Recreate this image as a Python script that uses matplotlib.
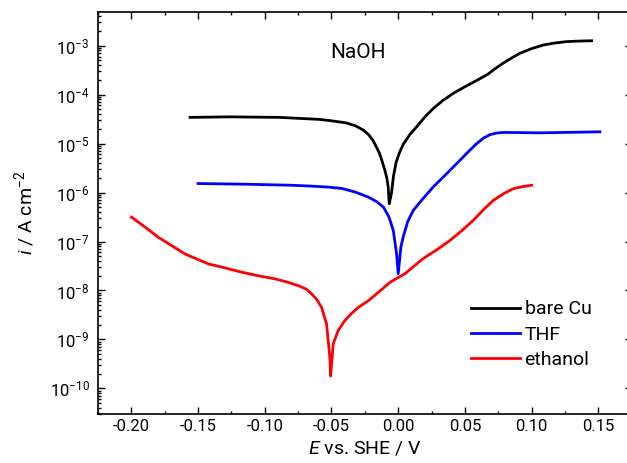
import matplotlib
matplotlib.use("Agg")
import matplotlib.pyplot as plt
import numpy as np
from matplotlib.ticker import NullFormatter, FixedLocator

plt.rcParams["font.family"] = ["Roboto", "DejaVu Sans"]
plt.rcParams["mathtext.fontset"] = "custom"
plt.rcParams["mathtext.rm"] = "Roboto"
plt.rcParams["mathtext.it"] = "Roboto:italic"
plt.rcParams["mathtext.bf"] = "Roboto:bold"
plt.rcParams["axes.unicode_minus"] = False

# ---------- data ----------

# bare Cu
cu_E = [-0.156, -0.126, -0.089, -0.059, -0.050, -0.039, -0.032, -0.026, -0.022,
        -0.019, -0.0165, -0.014, -0.012, -0.010, -0.0085, -0.0075, -0.0067,
        -0.005, -0.0035, -0.0015, 0.001, 0.0037, 0.0085, 0.0138, 0.020, 0.0262,
        0.0335, 0.0412, 0.050, 0.0588, 0.063, 0.0675, 0.072, 0.0787, 0.085,
        0.0912, 0.100, 0.1087, 0.117, 0.1262, 0.135, 0.145]
cu_i = [3.43e-5, 3.52e-5, 3.43e-5, 3.12e-5, 2.92e-5, 2.65e-5, 2.3e-5, 1.88e-5, 1.5e-5,
        1.17e-5, 8.7e-6, 6.3e-6, 4.3e-6, 2.86e-6, 1.95e-6, 1.3e-6, 5.9e-7,
        1.0e-6, 2.2e-6, 4.2e-6, 6.6e-6, 9.6e-6, 1.5e-5, 2.2e-5, 3.5e-5, 5.2e-5,
        7.6e-5, 1.06e-4, 1.45e-4, 1.95e-4, 2.25e-4, 2.65e-4, 3.3e-4, 4.4e-4, 5.6e-4,
        7.0e-4, 8.7e-4, 1.03e-3, 1.13e-3, 1.21e-3, 1.24e-3, 1.26e-3]

# THF
thf_E = [-0.150, -0.114, -0.080, -0.064, -0.052, -0.042, -0.032, -0.0225, -0.016,
         -0.011, -0.007, -0.0037, -0.0012, 0.0, 0.002, 0.0037, 0.007, 0.0112,
         0.018, 0.0262, 0.035, 0.0438, 0.052, 0.0588, 0.064, 0.0687, 0.0737,
         0.0787, 0.090, 0.1062, 0.130, 0.1512]
thf_i = [1.53e-6, 1.48e-6, 1.41e-6, 1.35e-6, 1.29e-6, 1.21e-6, 1.02e-6, 8.1e-7, 6.5e-7,
         5.0e-7, 3.2e-7, 1.69e-7, 5.6e-8, 2.2e-8, 7.7e-8, 1.23e-7, 2.5e-7, 4.3e-7,
         7.2e-7, 1.3e-6, 2.24e-6, 3.9e-6, 6.6e-6, 1.0e-5, 1.3e-5, 1.52e-5, 1.64e-5,
         1.69e-5, 1.68e-5, 1.66e-5, 1.70e-5, 1.74e-5]

# ethanol
eth_E = [-0.200, -0.190, -0.180, -0.170, -0.160, -0.151, -0.1424, -0.130, -0.1174,
         -0.105, -0.0924, -0.083, -0.075, -0.069, -0.065, -0.061, -0.0574, -0.0537,
         -0.0512, -0.0507, -0.0487, -0.045, -0.040, -0.035, -0.030, -0.022, -0.015,
         -0.006, 0.005, 0.0187, 0.029, 0.0388, 0.048, 0.0562, 0.064, 0.0712, 0.079,
         0.0862, 0.093, 0.100]
eth_i = [3.16e-7, 2.0e-7, 1.23e-7, 8.3e-8, 5.6e-8, 4.4e-8, 3.5e-8, 2.9e-8, 2.37e-8,
         2.0e-8, 1.73e-8, 1.48e-8, 1.26e-8, 1.07e-8, 8.6e-9, 6.5e-9, 4.5e-9, 2.08e-9,
         4.3e-10, 1.8e-10, 8.1e-10, 1.52e-9, 2.43e-9, 3.4e-9, 4.5e-9, 6.3e-9, 9.1e-9,
         1.48e-8, 2.2e-8, 4.5e-8, 6.8e-8, 1.05e-7, 1.7e-7, 2.7e-7, 4.5e-7, 6.9e-7, 9.5e-7,
         1.2e-6, 1.32e-6, 1.41e-6]

labels = ["bare Cu", "THF", "ethanol"]
colors = ["black", "#0000ff", "#ff0000"]
x_ticks = [-0.20, -0.15, -0.10, -0.05, 0.00, 0.05, 0.10, 0.15]
x_minor = [-0.225, -0.175, -0.125, -0.075, -0.025, 0.025, 0.075, 0.125, 0.175]
y_decades = [-10, -9, -8, -7, -6, -5, -4, -3]

# ---------- plot ----------

fig = plt.figure(figsize=(6.27, 4.63), dpi=100)
ax = fig.add_axes([0.1563, 0.1058, 0.8512, 0.8676])

for E, i, lab, c in zip([cu_E, thf_E, eth_E], [cu_i, thf_i, eth_i], labels, colors):
    ax.plot(E, i, color=c, lw=2.0, label=lab, solid_joinstyle="round")

ax.set_yscale("log")
ax.set_xlim(-0.225, 0.175)
ax.set_ylim(3e-11, 4.8e-3)

ax.xaxis.set_major_locator(FixedLocator(x_ticks))
ax.xaxis.set_minor_locator(FixedLocator(x_minor))
ax.xaxis.set_major_formatter(plt.FuncFormatter(lambda v, p: f"{v:.2f}"))

y_major = [10.0 ** d for d in y_decades]
y_minor = [m * 10.0 ** d for d in [-11] + y_decades for m in range(2, 10)]
y_minor = [v for v in y_minor if 3e-11 <= v <= 4.8e-3]
ax.yaxis.set_major_locator(FixedLocator(y_major))
ax.yaxis.set_minor_locator(FixedLocator(y_minor))
ax.yaxis.set_major_formatter(plt.FuncFormatter(
    lambda v, p: f"$10^{{{int(round(np.log10(v)))}}}$"))
ax.yaxis.set_minor_formatter(NullFormatter())

ax.tick_params(which="both", direction="in", top=True, right=True, width=1.0)
ax.tick_params(which="major", length=5, labelsize=12)
ax.tick_params(axis="y", which="major", pad=6)
ax.tick_params(which="minor", length=2.5)
for s in ax.spines.values():
    s.set_linewidth(1.2)

ax.set_xlabel("$E$ vs. SHE / V", fontsize=14, labelpad=4)
ax.set_ylabel("$i$ / A cm$^{-2}$", fontsize=14, labelpad=9)

ax.text(-0.0512, 7.4e-4, "NaOH", fontsize=15, va="center", ha="left")

ax.legend(loc="upper left", bbox_to_anchor=(0.699, 0.283), frameon=False,
          fontsize=14, handlelength=2.5, handletextpad=0.25, labelspacing=0.38,
          borderpad=0, borderaxespad=0)

fig.savefig("out.png", dpi=100)
